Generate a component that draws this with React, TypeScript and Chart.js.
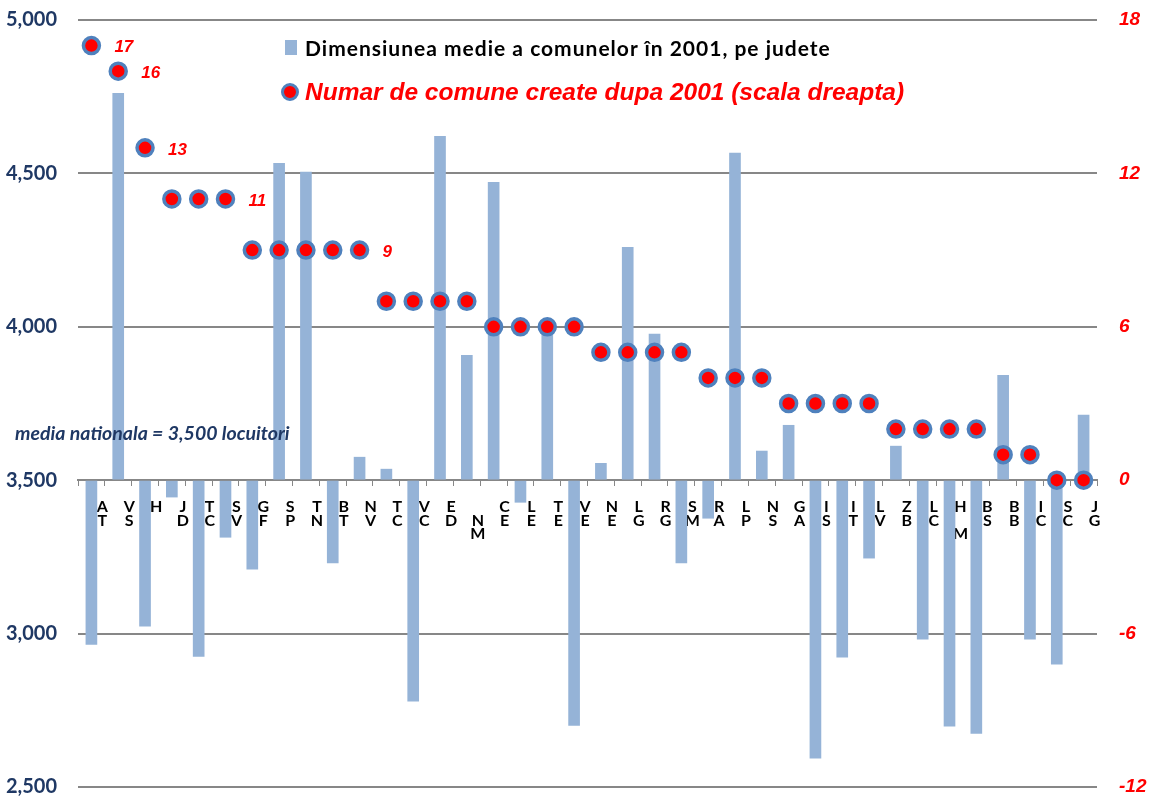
import React, { useEffect, useRef } from "react";
import { Chart, registerables } from "chart.js";

Chart.register(...registerables);

const categories: string[][] = [
  ["A", "T"], ["V", "S"], ["H"], ["J", "D"], ["T", "C"], ["S", "V"], ["G", "F"], ["S", "P"],
  ["T", "N"], ["B", "T"], ["N", "V"], ["T", "C"], ["V", "C"], ["E", "D"], ["", "N", "M"], ["C", "E"],
  ["L", "E"], ["T", "E"], ["V", "E"], ["N", "E"], ["L", "G"], ["R", "G"], ["S", "M"], ["R", "A"],
  ["L", "P"], ["N", "S"], ["G", "A"], ["I", "S"], ["I", "T"], ["L", "V"], ["Z", "B"], ["L", "C"],
  ["H", "", "M"], ["B", "S"], ["B", "B"], ["I", "C"], ["S", "C"], ["J", "G"],
];

const avgSize: number[] = [
  2965, 4761, 3024, 3445, 2926, 3314, 3210, 4533, 4504, 3230, 3575, 3536, 2780, 4621, 3907, 4471,
  3428, 3985, 2701, 3555, 4259, 3976, 3230, 3376, 4566, 3595, 3679, 2594, 2923, 3246, 3611, 2982,
  2698, 2675, 3842, 2982, 2900, 3712,
];

const newCommunes: number[] = [
  17, 16, 13, 11, 11, 11, 9, 9, 9, 9, 9, 7, 7, 7, 7, 6, 6, 6, 6, 5, 5, 5, 5, 4, 4, 4, 3, 3, 3, 3,
  2, 2, 2, 2, 1, 1, 0, 0,
];

const labelledPoints: number[] = [0, 1, 2, 5, 10, 28];

const leftRange = { min: 2500, max: 5000, step: 500 };
const rightRange = { min: -12, max: 18, step: 6 };
const baseline = 3500;

const barLegend = "Dimensiunea medie a comunelor în 2001, pe judete";
const pointLegend = "Numar de comune create dupa 2001 (scala dreapta)";
const noteText = "media nationala = 3,500 locuitori";

const BAR_COLOR = "#95B3D7";
const POINT_FILL = "#FF0000";
const POINT_BORDER = "#4F81BD";
const GRID = "#878787";
const NAVY = "#1F3864";

const pointLabelPlugin = {
  id: "pointLabels",
  beforeDatasetsDraw(chart: any) {
    const meta = chart.getDatasetMeta(1);
    const ctx = chart.ctx;
    ctx.save();
    ctx.font = "italic bold 17px 'Liberation Sans', Arial, sans-serif";
    ctx.fillStyle = "#FF0000";
    ctx.textAlign = "left";
    ctx.textBaseline = "middle";
    labelledPoints.forEach((i) => {
      const el = meta.data[i];
      if (!el) return;
      ctx.fillText(String(newCommunes[i]), el.x + 23, el.y + 2);
    });
    ctx.restore();
  },
};

export default function App() {
  const canvasRef = useRef<HTMLCanvasElement | null>(null);

  useEffect(() => {
    if (!canvasRef.current) return;
    const chart = new Chart(canvasRef.current, {
      type: "bar",
      data: {
        labels: categories,
        datasets: [
          {
            type: "bar",
            label: barLegend,
            data: avgSize,
            base: baseline,
            backgroundColor: BAR_COLOR,
            barThickness: 11,
            yAxisID: "y",
            order: 2,
          } as any,
          {
            type: "line",
            label: pointLegend,
            data: newCommunes,
            showLine: false,
            pointRadius: 8,
            pointBorderWidth: 3.5,
            pointBackgroundColor: POINT_FILL,
            pointBorderColor: POINT_BORDER,
            yAxisID: "y1",
            order: 1,
          } as any,
        ],
      },
      options: {
        responsive: false,
        animation: false,
        devicePixelRatio: 1,
        locale: "en-US",
        layout: { padding: { top: 20, bottom: 12, left: 0, right: 0 } },
        plugins: {
          legend: { display: false },
          tooltip: { enabled: false },
        },
        scales: {
          x: {
            type: "category",
            position: { y: baseline } as any,
            offset: true,
            afterFit: (s: any) => {
              s.height = 0;
              s.paddingTop = 0;
              s.paddingBottom = 0;
            },
            grid: {
              display: true,
              drawOnChartArea: false,
              drawTicks: true,
              tickLength: 5,
              color: GRID,
              offset: true,
            },
            border: { display: true, color: GRID, width: 2 },
            ticks: {
              autoSkip: false,
              maxRotation: 0,
              minRotation: 0,
              labelOffset: 11,
              padding: 15,
              color: "#000000",
              font: { family: "Lato, 'Open Sans', sans-serif", size: 16, weight: "bold", lineHeight: 0.85 },
            },
          },
          y: {
            type: "linear",
            position: "left",
            min: leftRange.min,
            max: leftRange.max,
            afterFit: (s: any) => {
              s.width = 78;
              s.paddingTop = 0;
              s.paddingBottom = 0;
            },
            grid: { color: GRID, lineWidth: 2, drawTicks: false },
            border: { display: false },
            ticks: {
              stepSize: leftRange.step,
              padding: 21,
              color: NAVY,
              font: { family: "Lato, 'Open Sans', sans-serif", size: 20, weight: "bold" },
            },
          },
          y1: {
            type: "linear",
            position: "right",
            min: rightRange.min,
            max: rightRange.max,
            afterFit: (s: any) => {
              s.width = 56;
              s.paddingTop = 0;
              s.paddingBottom = 0;
            },
            grid: { display: false, drawTicks: false },
            border: { display: false },
            ticks: {
              stepSize: rightRange.step,
              padding: 22,
              color: "#FF0000",
              font: { family: "'Liberation Sans', Arial, sans-serif", size: 19, weight: "bold", style: "italic" },
            },
          },
        },
      } as any,
      plugins: [pointLabelPlugin],
    });
    return () => chart.destroy();
  }, []);

  return (
    <div
      style={{
        position: "fixed",
        left: 0,
        top: 0,
        width: 1153,
        height: 799,
        background: "#FFFFFF",
        overflow: "hidden",
      }}
    >
      <canvas ref={canvasRef} width={1153} height={799} style={{ display: "block" }} />
      <div
        style={{
          position: "absolute",
          left: 285,
          top: 40,
          width: 12,
          height: 15,
          background: BAR_COLOR,
        }}
      />
      <div
        style={{
          position: "absolute",
          left: 305,
          top: 34,
          lineHeight: "28px",
          fontFamily: "Lato, 'Open Sans', sans-serif",
          fontWeight: "bold",
          fontSize: 21,
          letterSpacing: "1px",
          color: "#000000",
          whiteSpace: "nowrap",
        }}
      >
        {barLegend}
      </div>
      <div
        style={{
          position: "absolute",
          left: 281,
          top: 83,
          width: 12,
          height: 12,
          borderRadius: "50%",
          background: POINT_FILL,
          border: `3.5px solid ${POINT_BORDER}`,
        }}
      />
      <div
        style={{
          position: "absolute",
          left: 305,
          top: 76,
          lineHeight: "32px",
          fontFamily: "'Liberation Sans', Arial, sans-serif",
          fontWeight: "bold",
          fontStyle: "italic",
          fontSize: 24.5,
          color: "#FF0000",
          whiteSpace: "nowrap",
        }}
      >
        {pointLegend}
      </div>
      <div
        style={{
          position: "absolute",
          left: 15,
          top: 421,
          lineHeight: "24px",
          fontFamily: "Lato, 'Open Sans', sans-serif",
          fontWeight: "bold",
          fontStyle: "italic",
          fontSize: 19.5,
          color: NAVY,
          whiteSpace: "nowrap",
        }}
      >
        {noteText}
      </div>
    </div>
  );
}
